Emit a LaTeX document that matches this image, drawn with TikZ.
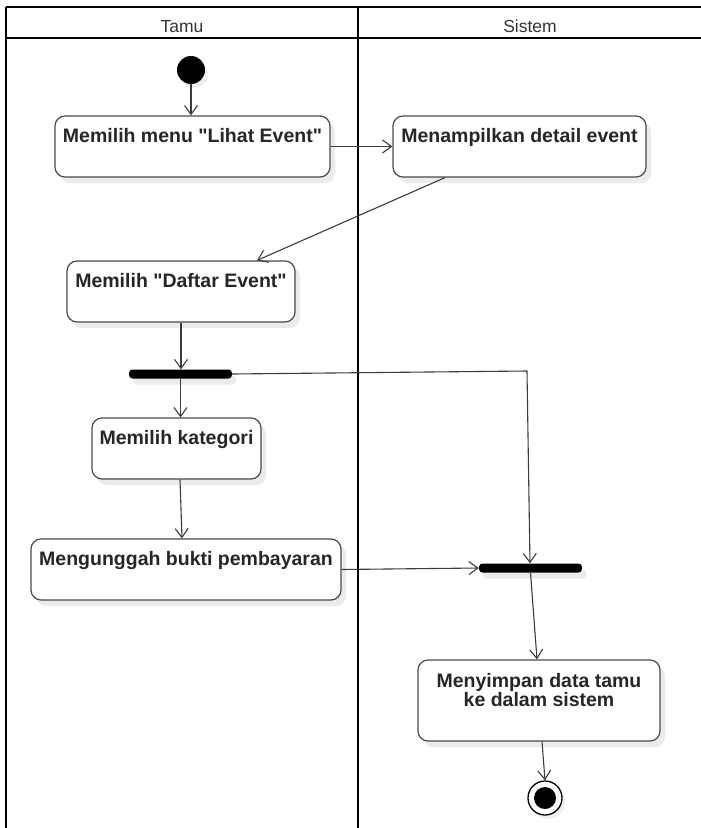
\documentclass[tikz,border=0pt]{standalone}
\usepackage{fontspec}
\setmainfont{Liberation Sans}
\usetikzlibrary{arrows.meta,shadows}
\definecolor{boxc}{HTML}{4A4A4A}
\definecolor{flowc}{HTML}{3C3C3C}
\definecolor{txtc}{HTML}{262626}
\definecolor{headc}{HTML}{333333}
\begin{document}
\begin{tikzpicture}[x=1pt,y=-1pt,
  act/.style={draw=boxc, line width=1.2pt, rounded corners=10pt, fill=white,
    drop shadow={shadow xshift=5pt, shadow yshift=-6pt, fill=black!20, opacity=.4}, inner sep=0},
  lbl/.style={font=\bfseries\fontsize{19.5}{19}\selectfont, text=txtc, anchor=base, inner sep=0, align=center},
  head/.style={font=\fontsize{17.5}{20}\selectfont, text=headc, anchor=base, inner sep=0},
  bar/.style={fill=black, rounded corners=3.5pt, minimum height=9pt, minimum width=103pt, inner sep=0,
    drop shadow={shadow xshift=4pt, shadow yshift=-6pt, fill=black!20, opacity=.4}},
  flow/.style={draw=flowc, line width=1.1pt, -{Straight Barb[length=9pt, width=13pt]}},
  lane/.style={line width=2.2pt, draw=black}
]
\path[use as bounding box] (0,0) rectangle (701,828);
\clip (0,0) rectangle (701,828);

% swimlanes
\draw[lane] (6,7) -- (705,7);
\draw[lane] (6,38) -- (705,38);
\draw[lane] (6,7) -- (6,832);
\draw[lane] (358,7) -- (358,832);
\node[head] (hT) at (182,32) {Tamu};
\node[head] (hS) at (530,32) {Sistem};

% initial node
\node[circle, fill=black, minimum size=28pt, inner sep=0,
  drop shadow={shadow xshift=3pt, shadow yshift=-4pt, fill=black!20, opacity=.3}] (init) at (191,70) {};

% activities
\node[act, minimum width=275pt, minimum height=61pt] (b1) at (192.5,146.5) {};
\node[lbl] (t1) at (192.5,142) {Memilih menu \textquotedbl Lihat Event\textquotedbl};
\node[act, minimum width=253pt, minimum height=61pt] (b2) at (519.5,146.5) {};
\node[lbl] (t2) at (519.5,142) {Menampilkan detail event};
\node[act, minimum width=228pt, minimum height=61pt] (b3) at (181,291.5) {};
\node[lbl] (t3) at (181,287) {Memilih \textquotedbl Daftar Event\textquotedbl};
\node[act, minimum width=169pt, minimum height=61pt] (b4) at (176.5,448.5) {};
\node[lbl] (t4) at (176.5,444) {Memilih kategori};
\node[act, minimum width=310pt, minimum height=61pt] (b5) at (186,569.5) {};
\node[lbl] (t5) at (186,565) {Mengunggah bukti pembayaran};
\node[act, minimum width=242pt, minimum height=81pt] (b6) at (539,700.5) {};
\node[lbl] (t6) at (539,706) {Menyimpan data tamu\\ke dalam sistem};

% fork / join bars
\node[bar] (fork) at (180.5,374) {};
\node[bar] (join) at (530.5,568) {};

% final node
\node[circle, draw=black, line width=1.3pt, fill=white, minimum size=34pt, inner sep=0,
  drop shadow={shadow xshift=3pt, shadow yshift=-4pt, fill=black!20, opacity=.3}] (final) at (545,798) {};
\node[circle, fill=black, minimum size=22pt, inner sep=0] (finin) at (final.center) {};

\coordinate (c1) at (527,371);

% flows
\draw[flow] (init.south) -- (init.south |- b1.north);
\draw[flow] (b1.east) -- (b2.west);
\draw[flow] ([xshift=-74.5pt]b2.south) -- ([xshift=76pt]b3.north);
\draw[flow] (b3.south) -- (b3.south |- fork.north);
\draw[flow] (fork.south) -- (fork.south |- b4.north);
\draw[flow] (fork.east) -- (c1) -- ([xshift=-0.5pt]join.north);
\draw[flow] ([xshift=3.5pt]b4.south) -- ([xshift=-4pt]b5.north);
\draw[flow] (b5.east) -- (join.west);
\draw[flow] (join.south) -- ([xshift=-2pt]b6.north);
\draw[flow] ([xshift=3pt]b6.south) -- (final.north);
\end{tikzpicture}
\end{document}
